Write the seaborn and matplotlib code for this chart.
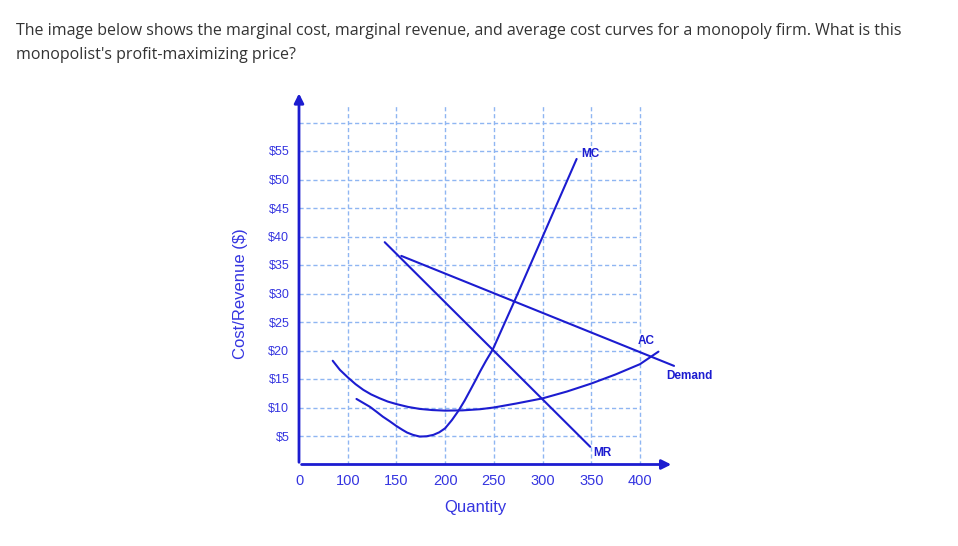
import matplotlib
matplotlib.use("Agg")
import matplotlib.pyplot as plt
import seaborn as sns

# quantity ticks (axis origin is drawn at 50 but labelled "0")
x_ticks = [50, 100, 150, 200, 250, 300, 350, 400]
x_tick_labels = ["0", "100", "150", "200", "250", "300", "350", "400"]
y_ticks = [5, 10, 15, 20, 25, 30, 35, 40, 45, 50, 55]
y_tick_labels = ["$5", "$10", "$15", "$20", "$25", "$30", "$35", "$40", "$45", "$50", "$55"]
y_grid = [5, 10, 15, 20, 25, 30, 35, 40, 45, 50, 55, 60]

# curves
mc_q = [109, 116, 123, 130, 136, 143, 150, 156, 161, 167, 174, 181, 188, 194, 200, 207,
        214, 220, 226, 231, 236, 242, 249, 271, 335]
mc_p = [11.5, 10.8, 10.1, 9.2, 8.4, 7.6, 6.75, 6.1, 5.6, 5.2, 4.9, 4.95, 5.2, 5.65, 6.35, 7.8,
        9.5, 11.2, 13.1, 14.7, 16.35, 18.2, 20.2, 28.6, 53.6]

ac_q = [84.6, 92, 100, 108, 116, 124, 133, 141, 150, 162, 174, 187, 200, 218, 236, 250,
        273, 300, 325, 350, 375, 400, 419]
ac_p = [18.2, 16.6, 15.3, 14.1, 13.1, 12.3, 11.6, 11.05, 10.6, 10.1, 9.75, 9.55, 9.45, 9.5, 9.7, 10.0,
        10.7, 11.6, 12.8, 14.2, 15.8, 17.6, 19.8]

demand_q = [155, 435]
demand_p = [36.6, 17.3]

mr_q = [138, 349]
mr_p = [39.0, 3.1]

line_c = "#1c1cd0"
text_c = "#3535e0"
grid_c = "#8fb6f2"

sns.set_theme(style="white")
plt.rcParams["font.family"] = ["Liberation Sans", "DejaVu Sans"]

fig = plt.figure(figsize=(9.58, 5.46), dpi=100)
fig.text(16 / 958, 1 - 31 / 546,
         "The image below shows the marginal cost, marginal revenue, and average cost curves for a monopoly firm. What is this",
         fontsize=11.5, color="#333333", family="Open Sans", va="center", ha="left")
fig.text(16 / 958, 1 - 55 / 546, "monopolist's profit-maximizing price?",
         fontsize=11.5, color="#333333", family="Open Sans", va="center", ha="left")

ax = fig.add_axes([299 / 958, 81.5 / 546, 379.9 / 958, 376.2 / 546])
ax.set_xlim(50, 440)
ax.set_ylim(0, 66)
for s in ax.spines.values():
    s.set_visible(False)

# dashed grid
ax.hlines(y_grid, 50, 400, colors=grid_c, linestyles=(0, (3, 2)), linewidth=1)
ax.vlines(x_ticks[1:], 0, 63, colors=grid_c, linestyles=(0, (3, 2)), linewidth=1)

# curves
for q, p in [(mc_q, mc_p), (ac_q, ac_p), (demand_q, demand_p), (mr_q, mr_p)]:
    sns.lineplot(x=q, y=p, ax=ax, color=line_c, linewidth=1.5, estimator=None, sort=False)

# axes with arrowheads
ax.annotate("", xy=(50, 65.6), xytext=(50, -0.1),
            arrowprops=dict(arrowstyle="-|>", color=line_c, lw=2, mutation_scale=14))
ax.annotate("", xy=(435, 0), xytext=(49.8, 0),
            arrowprops=dict(arrowstyle="-|>", color=line_c, lw=2, mutation_scale=14))

ax.set_xticks(x_ticks, labels=x_tick_labels)
ax.set_yticks(y_ticks, labels=y_tick_labels)
ax.tick_params(axis="x", length=0, pad=7, labelsize=10.5, labelcolor=text_c)
ax.tick_params(axis="y", length=0, pad=7, labelsize=9, labelcolor=text_c)

ax.set_xlabel("Quantity", fontsize=12, color=text_c)
ax.xaxis.set_label_coords(0.463, -0.095)
ax.set_ylabel("Cost/Revenue ($)", fontsize=12, color=text_c)
ax.yaxis.set_label_coords(-0.135, 0.455)

lab = dict(color=line_c, fontsize=8.5, fontweight="bold")
ax.text(340, 54.4, "MC", ha="left", va="center", **lab)
ax.text(398, 21.6, "AC", ha="left", va="center", **lab)
ax.text(427, 15.6, "Demand", ha="left", va="center", **lab)
ax.text(352, 2.0, "MR", ha="left", va="center", **lab)

fig.savefig("out.png", dpi=100)
